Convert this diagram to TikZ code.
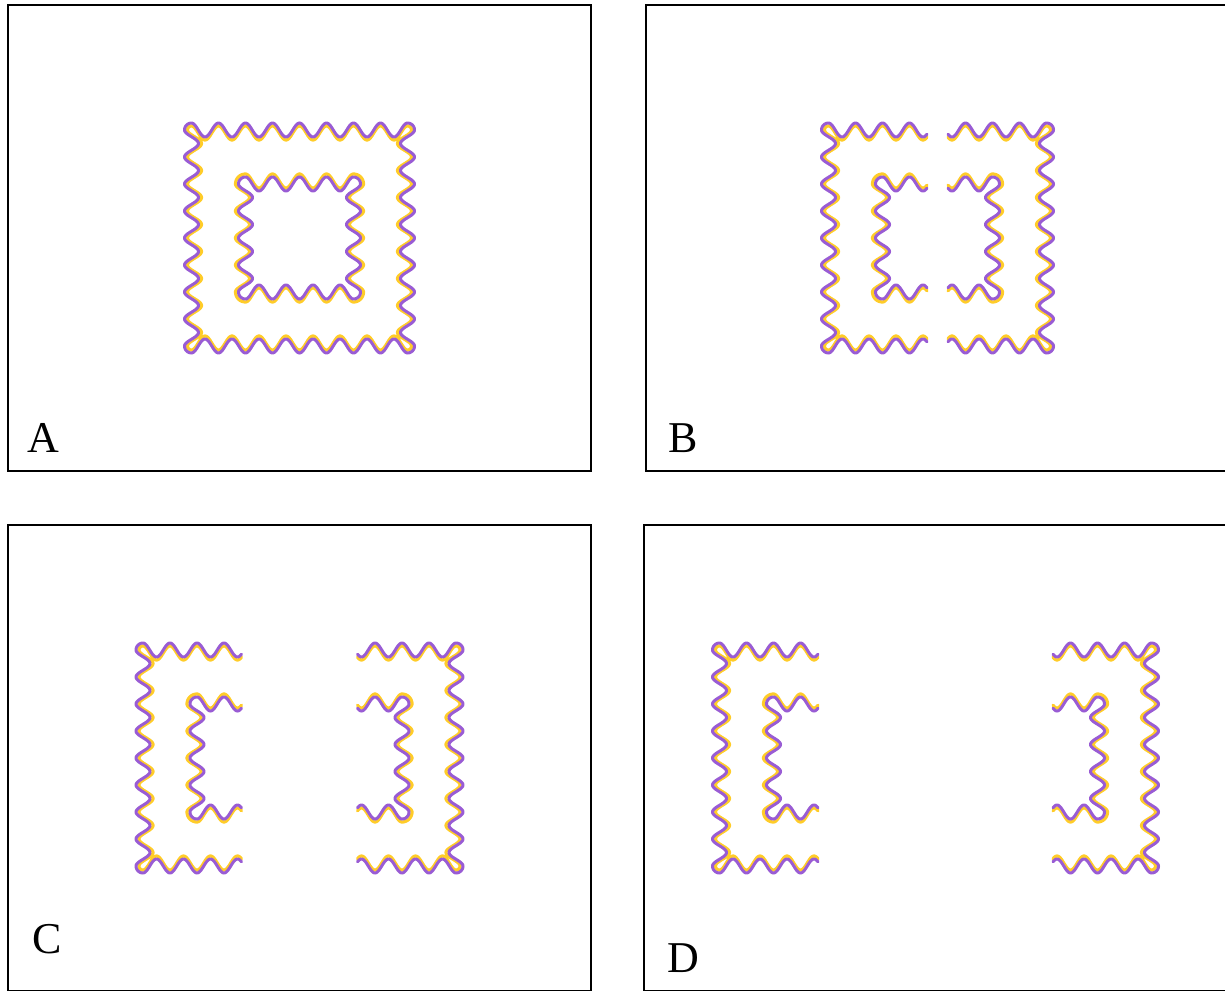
\documentclass[tikz,border=0pt]{standalone}
\usepackage{fontspec}
\setmainfont{Liberation Serif}
\usetikzlibrary{positioning}

\definecolor{memviolet}{RGB}{153,92,212}
\definecolor{memgold}{RGB}{255,204,41}

\tikzset{
  panelframe/.style={draw=black, line width=1.7pt},
  panellabel/.style={anchor=base west, inner sep=0pt, font=\fontsize{44}{52}\selectfont},
  goldwave/.style={draw=memgold, line width=3.2pt, line cap=round, line join=round},
  violetwave/.style={draw=memviolet, line width=3pt, line cap=round, line join=round}
}

% Wave length and amplitude (px)
\def\wlen{27}
\def\wamp{7}

% Left half: style, cx, cy, half side, shift, offset
\newcommand{\memleft}[6]{%
  \draw[#1]
    plot[domain=-\wgap:-#4, samples=120] ({#2-#5+\x}, {#3-#4-(#6)-\wamp*cos(\x/\wlen*360)})
    -- plot[domain=270:180, samples=12] ({#2-#5-#4+(\wamp+(#6))*cos(\x)}, {#3-#4+(\wamp+(#6))*sin(\x)})
    -- plot[domain=-#4:#4, samples=240] ({#2-#5-#4-(#6)-\wamp*cos(\x/\wlen*360)}, {#3+\x})
    -- plot[domain=180:90, samples=12] ({#2-#5-#4+(\wamp+(#6))*cos(\x)}, {#3+#4+(\wamp+(#6))*sin(\x)})
    -- plot[domain=-#4:-\wgap, samples=120] ({#2-#5+\x}, {#3+#4+(#6)+\wamp*cos(\x/\wlen*360)});
}

% Right half: style, cx, cy, half side, shift, offset
\newcommand{\memright}[6]{%
  \draw[#1]
    plot[domain=\wgap:#4, samples=120] ({#2+#5+\x}, {#3-#4-(#6)-\wamp*cos(\x/\wlen*360)})
    -- plot[domain=270:360, samples=12] ({#2+#5+#4+(\wamp+(#6))*cos(\x)}, {#3-#4+(\wamp+(#6))*sin(\x)})
    -- plot[domain=-#4:#4, samples=240] ({#2+#5+#4+(#6)+\wamp*cos(\x/\wlen*360)}, {#3+\x})
    -- plot[domain=0:90, samples=12] ({#2+#5+#4+(\wamp+(#6))*cos(\x)}, {#3+#4+(\wamp+(#6))*sin(\x)})
    -- plot[domain=#4:\wgap, samples=120] ({#2+#5+\x}, {#3+#4+(#6)+\wamp*cos(\x/\wlen*360)});
}

% Both squares of one panel: cx, cy, shift, gap
\newcommand{\drawcut}[4]{%
  \def\wgap{#4}
  \foreach \hs/\off in {108/-3, 54/3} {
    \memleft{goldwave}{#1}{#2}{\hs}{#3}{\off}
    \memright{goldwave}{#1}{#2}{\hs}{#3}{\off}
  }
  \foreach \hs in {108, 54} {
    \memleft{violetwave}{#1}{#2}{\hs}{#3}{0}
    \memright{violetwave}{#1}{#2}{\hs}{#3}{0}
  }
}

\begin{document}
\begin{tikzpicture}[x=1pt, y=-1pt]
  \useasboundingbox (0,0) rectangle (1225,990);

  % Panel frames
  \draw[panelframe] (8,5) rectangle (591,471);
  \draw[panelframe] (646,5) rectangle (1229,471);
  \draw[panelframe] (8,525) rectangle (591,991);
  \draw[panelframe] (644,525) rectangle (1227,991);

  % Membranes
  \drawcut{299.5}{238}{0}{0}
  \drawcut{937.5}{238}{1}{9.5}
  \drawcut{299.5}{758}{48.5}{9.5}
  \drawcut{935.5}{758}{108}{9.5}

  % Panel labels
  \node[panellabel] (labA) at (27,452) {A};
  \node[panellabel] (labB) at (668,452) {B};
  \node[panellabel] (labC) at (32,953) {C};
  \node[panellabel] (labD) at (667,972) {D};
\end{tikzpicture}
\end{document}
